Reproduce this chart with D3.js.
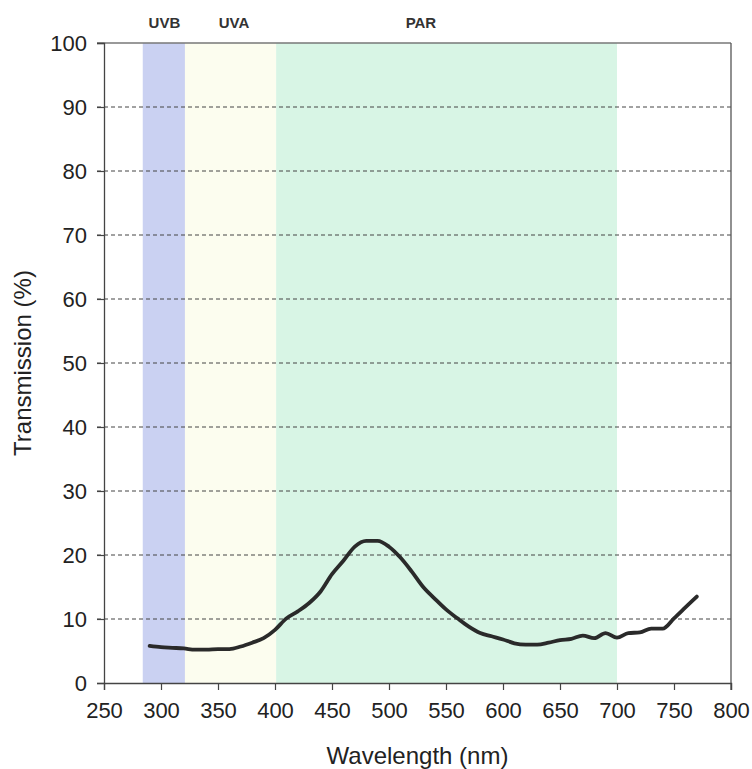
<!DOCTYPE html>
<html>
<head>
<meta charset="utf-8">
<script src="https://cdn.jsdelivr.net/npm/d3@7"></script>
<style>
  html,body{margin:0;padding:0;background:#fff;}
  #chart{width:752px;height:769px;}
  text{font-family:"Liberation Sans",Arial,sans-serif;fill:#222;}
</style>
</head>
<body>
<div id="chart"></div>
<script>
// Transmission spectrum
const wavelength = [290,300,310,320,330,340,350,360,370,380,390,400,410,420,430,440,450,460,470,480,490,
  500,510,520,530,540,550,560,570,580,590,600,610,620,630,640,650,660,670,680,690,700,710,720,730,740,750,760,770];
const transmission = [5.8,5.6,5.5,5.4,5.2,5.2,5.3,5.3,5.7,6.3,7.0,8.3,10.1,11.2,12.5,14.3,17.0,19.1,21.3,22.2,22.2,
  21.3,19.6,17.4,15.0,13.2,11.5,10.1,8.8,7.8,7.3,6.8,6.2,6.0,6.0,6.3,6.7,6.9,7.4,7.0,7.8,7.1,7.8,7.9,8.5,8.5,10.1,11.8,13.5];

const bandNames = ['UVB','UVA','PAR'];
const bandStart = [284,321,401];
const bandEnd = [321,401,700];
const bandLabelAt = [303,364,528];
const bandColors = ['#cad1f2','#fcfdef','#d8f5e5'];

const xTicks = [250,300,350,400,450,500,550,600,650,700,750,800];
const yTicks = [0,10,20,30,40,50,60,70,80,90,100];

(function(){
  const w = 752, h = 769;
  const margin = {top:43,right:21,bottom:86,left:104};
  const width = w - margin.left - margin.right;
  const height = h - margin.top - margin.bottom;

  const svg = d3.select('#chart').append('svg').attr('width',w).attr('height',h);
  const g = svg.append('g').attr('transform',`translate(${margin.left},${margin.top})`);

  const x = d3.scaleLinear().domain([250,800]).range([0,width]);
  const y = d3.scaleLinear().domain([0,100]).range([height,0]);

  // spectral bands
  g.selectAll('rect.band').data(bandNames).enter().append('rect')
    .attr('class','band')
    .attr('x',(d,i)=>x(bandStart[i]))
    .attr('width',(d,i)=>x(bandEnd[i])-x(bandStart[i]))
    .attr('y',0).attr('height',height)
    .attr('fill',(d,i)=>bandColors[i]);

  svg.selectAll('text.band').data(bandNames).enter().append('text')
    .attr('class','band')
    .attr('x',(d,i)=>margin.left + x(bandLabelAt[i]))
    .attr('y',28)
    .attr('text-anchor','middle')
    .attr('font-size','15px').attr('font-weight','bold')
    .style('fill','#333')
    .text(d=>d);

  // dashed grid lines (with outer tick)
  g.selectAll('line.grid').data(yTicks.filter(t=>t>0 && t<100)).enter().append('line')
    .attr('class','grid')
    .attr('x1',-7).attr('x2',width)
    .attr('y1',d=>y(d)).attr('y2',d=>y(d))
    .attr('stroke','#444').attr('stroke-width',1).attr('stroke-dasharray','4,3');

  // frame top + right
  g.append('line').attr('x1',-7).attr('x2',width).attr('y1',0).attr('y2',0)
    .attr('stroke','#777').attr('stroke-width',1.3);
  g.append('line').attr('x1',width).attr('x2',width).attr('y1',0).attr('y2',height+7)
    .attr('stroke','#555').attr('stroke-width',1.3);

  const xAxis = g.append('g').attr('transform',`translate(0,${height})`)
    .call(d3.axisBottom(x).tickValues(xTicks).tickSize(7).tickPadding(12));
  const yAxis = g.append('g')
    .call(d3.axisLeft(y).tickValues(yTicks).tickSize(7).tickPadding(10));
  [xAxis,yAxis].forEach(a=>{
    a.select('.domain').attr('stroke','#444').attr('stroke-width',1.3);
    a.selectAll('.tick line').attr('stroke','#444').attr('stroke-width',1.2);
    a.selectAll('.tick text').attr('font-size','22px')
      .attr('font-family','"Liberation Sans",Arial,sans-serif').style('fill','#222');
  });
  yAxis.selectAll('.tick text').attr('dy','0.36em');

  // transmission curve
  const line = d3.line().x((d,i)=>x(wavelength[i])).y(d=>y(d)).curve(d3.curveMonotoneX);
  g.append('path').datum(transmission)
    .attr('d',line)
    .attr('fill','none').attr('stroke','#2a2a2a')
    .attr('stroke-width',3.8).attr('stroke-linejoin','round').attr('stroke-linecap','round');

  // axis titles
  svg.append('text').attr('x',margin.left + width/2).attr('y',764)
    .attr('text-anchor','middle').attr('font-size','24px').text('Wavelength (nm)');
  svg.append('text').attr('transform',`translate(31,${margin.top + height/2}) rotate(-90)`)
    .attr('text-anchor','middle').attr('font-size','24px').text('Transmission (%)');
})();
</script>
</body>
</html>
